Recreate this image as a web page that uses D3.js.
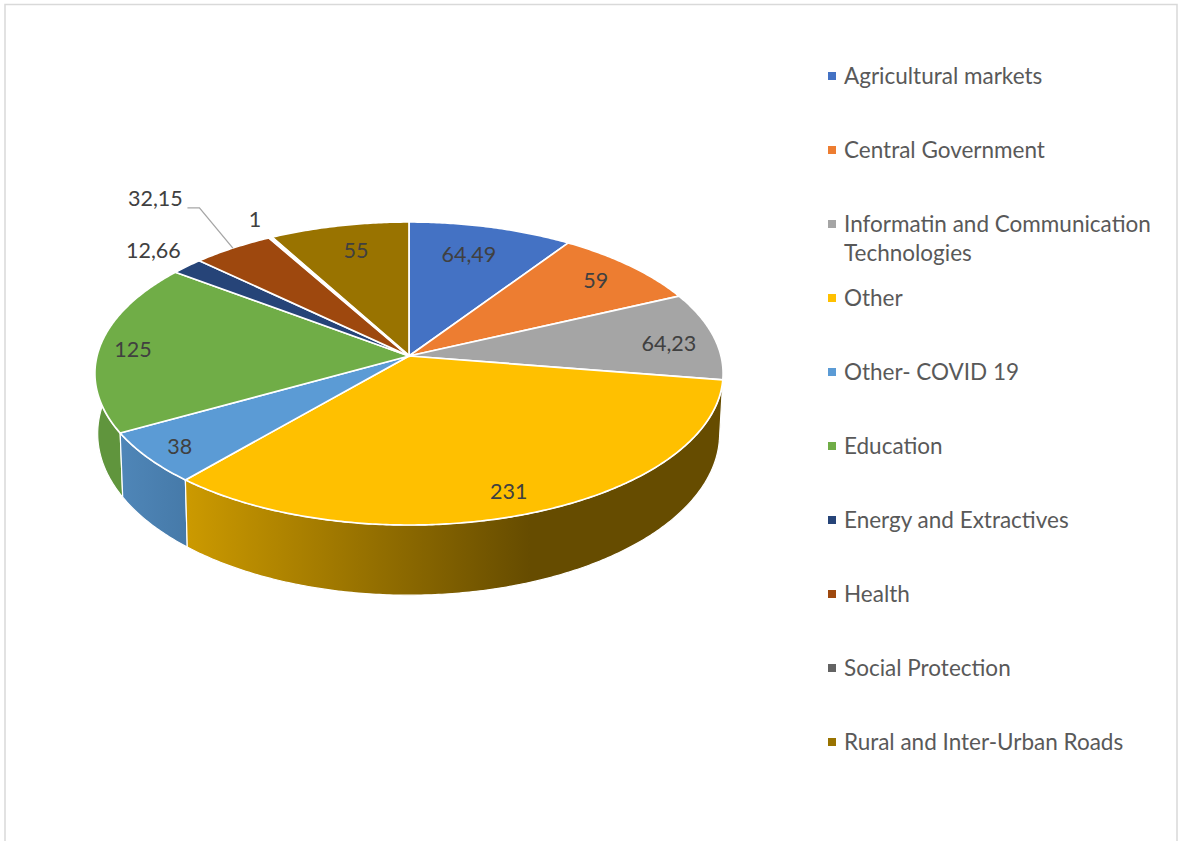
<!DOCTYPE html>
<html>
<head>
<meta charset="utf-8">
<script src="https://cdn.jsdelivr.net/npm/d3@7/dist/d3.min.js"></script>
<style>
html,body{margin:0;padding:0;background:#fff;overflow:hidden}
svg{display:block}
text{font-family:Lato,"Open Sans",sans-serif}
</style>
</head>
<body>
<svg id="chart" width="1178" height="841"></svg>
<script>
// Data
const categories = ["Agricultural markets","Central Government","Informatin and Communication Technologies","Other","Other- COVID 19","Education","Energy and Extractives","Health","Social Protection","Rural and Inter-Urban Roads"];
const values = [64.49,59,64.23,231,38,125,12.66,32.15,1,55];
const valueLabels = ["64,49","59","64,23","231","38","125","12,66","32,15","1","55"];
const colors = ["#4472C4","#ED7D31","#A5A5A5","#FFC000","#5B9BD5","#70AD47","#264478","#9E480E","#636363","#997300"];
const legendLines = [["Agricultural markets"],["Central Government"],["Informatin and Communication","Technologies"],["Other"],["Other- COVID 19"],["Education"],["Energy and Extractives"],["Health"],["Social Protection"],["Rural and Inter-Urban Roads"]];
// Label layout: radial fraction and angular nudge (degrees) for each data label
const labelRadius = [0.769,0.834,0.846,0.868,0.891,0.89,1.18,1.512,1.158,0.794];
const labelNudge = [-1.3,0.1,2,0.6,-0.5,-1.2,0.7,0.3,0.8,1];

// Perspective disc
const cx=409, cy=356, rx=312, ry=149.5, k=0.1155;
const project=(a,f=1)=>{
  const u=f*Math.sin(a), v=-f*Math.cos(a), w=1-k*v;
  return [cx+rx*u/w, cy+ry*v/w];
};
const lowerRim=([x,y])=>[375+0.99*(x-375), 415+1.066*(y-cy)];

const svg=d3.select("#chart");
const line=d3.line();
const arcSamples=(a0,a1)=>{
  const n=Math.max(2,Math.ceil(Math.abs(a1-a0)/0.01));
  return d3.range(n+1).map(i=>a0+(a1-a0)*i/n);
};
const slices=d3.pie().sort(null).value(d=>d)(values);

// Chart frame
svg.append("rect").attr("x",5).attr("y",4.5).attr("width",1172).attr("height",860)
  .attr("fill","#fff").attr("stroke","#d9d9d9").attr("stroke-width",1.5);

// Side-wall shading
const defs=svg.append("defs");
const wallFill=i=>{
  const base=d3.color(colors[i]);
  if(i===3){
    const g=defs.append("linearGradient").attr("id","wall3").attr("gradientUnits","userSpaceOnUse")
      .attr("x1",project(slices[3].endAngle)[0]).attr("x2",530).attr("y1",0).attr("y2",0);
    g.append("stop").attr("offset",0).attr("stop-color","#cc9a00");
    g.append("stop").attr("offset",1).attr("stop-color","#664c00");
    return "url(#wall3)";
  }
  if(i===4){
    const g=defs.append("linearGradient").attr("id","wall4").attr("gradientUnits","userSpaceOnUse")
      .attr("x1",project(slices[4].endAngle)[0]).attr("x2",project(slices[4].startAngle)[0]).attr("y1",0).attr("y2",0);
    g.append("stop").attr("offset",0).attr("stop-color","#4f86b8");
    g.append("stop").attr("offset",1).attr("stop-color","#467aa9");
    return "url(#wall4)";
  }
  return base.darker(0.42).formatHex();
};

// Walls, back to front: the largest front slice goes last
const wallOrder=[0,1,2,9,8,7,6,5,4,3];
svg.append("g").selectAll("path").data(wallOrder).join("path")
  .attr("d",i=>{
    const as=arcSamples(slices[i].startAngle,slices[i].endAngle);
    const top=as.map(a=>project(a));
    const bottom=top.map(lowerRim).reverse();
    return line(top.concat(bottom))+"Z";
  })
  .attr("fill",wallFill)
  .attr("stroke","#fff").attr("stroke-width",1.2).attr("stroke-linejoin","round");

// Top faces; the hairline Social Protection slice is painted last with a wider white edge
const thinSlice=8;
const topOrder=d3.range(slices.length).filter(i=>i!==thinSlice).concat(thinSlice);
svg.append("g").selectAll("path").data(topOrder).join("path")
  .attr("d",i=>line([[cx,cy]].concat(arcSamples(slices[i].startAngle,slices[i].endAngle).map(a=>project(a))))+"Z")
  .attr("fill",i=>colors[i])
  .attr("stroke","#fff").attr("stroke-width",i=>i===thinSlice?2.6:1.7).attr("stroke-linejoin","round");

// Label anchors
const labelPos=slices.map((d,i)=>project((d.startAngle+d.endAngle)/2+labelNudge[i]*Math.PI/180,labelRadius[i]));

// Leader line for the Health label
const hi=7, rimPt=project((slices[hi].startAngle+slices[hi].endAngle)/2), lp=labelPos[hi];
svg.append("path")
  .attr("d",line([[lp[0]+32,lp[1]+9],[lp[0]+44,lp[1]+9],rimPt]))
  .attr("fill","none").attr("stroke","#a6a6a6").attr("stroke-width",1.3);

// Data labels
svg.append("g").selectAll("text").data(valueLabels).join("text")
  .attr("x",(d,i)=>labelPos[i][0]).attr("y",(d,i)=>labelPos[i][1]-0.5)
  .attr("text-anchor","middle").attr("dominant-baseline","central")
  .attr("font-size",21.5).attr("fill","#404040").text(d=>d);

// Legend
const legendY=d3.scalePoint().domain(d3.range(categories.length)).range([76,742]);
const lg=svg.append("g").selectAll("g").data(categories).join("g");
lg.append("rect").attr("x",828).attr("y",(d,i)=>legendY(i)-4).attr("width",8).attr("height",8)
  .attr("fill",(d,i)=>colors[i]);
lg.each(function(d,i){
  d3.select(this).selectAll("text").data(legendLines[i]).join("text")
    .attr("x",844).attr("y",(t,j)=>legendY(i)+j*29-1)
    .attr("dominant-baseline","central")
    .attr("font-size",22.5).attr("fill","#595959").text(t=>t);
});
</script>
</body>
</html>
